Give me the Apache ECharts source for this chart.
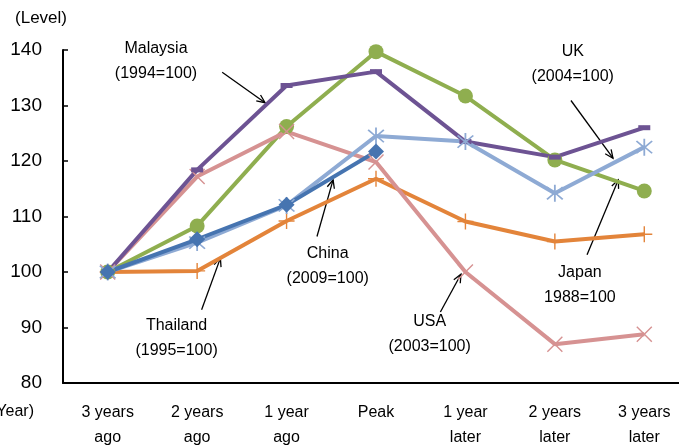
<!DOCTYPE html>
<html>
<head>
<meta charset="utf-8">
<script src="https://cdn.jsdelivr.net/npm/echarts@6/dist/echarts.min.js"></script>
<style>
  html, body { margin: 0; padding: 0; background: #fff; }
  #chart { width: 679px; height: 448px; }
</style>
</head>
<body>
<div id="chart"></div>
<script>
// Index levels around each economy's peak year (peak-year base noted in labels)
const categories = ['3 years\nago', '2 years\nago', '1 year\nago', 'Peak', '1 year\nlater', '2 years\nlater', '3 years\nlater'];
const yTicks = { min: 80, max: 140, step: 10 };

const ukValues       = [100, 108.3, 126.2, 139.7, 131.7, 120.2, 114.6];
const thailandValues = [100, 100.2, 109.2, 116.8, 109.1, 105.5, 106.8];
const usaValues      = [100, 117.2, 125.3, 119.8, 100.0, 87.0, 88.8];
const malaysiaValues = [100, 118.4, 133.6, 136.1, 123.5, 120.7, 126.0];
const japanValues    = [100, 105.3, 112.0, 124.5, 123.5, 114.2, 122.5];
const chinaValues    = [100, 105.9, 112.1, 121.7];

// Callouts: label anchor and arrow (tail -> head) in [category position, level]
const calloutTexts  = ['Malaysia\n(1994=100)', 'UK\n(2004=100)', 'Japan\n1988=100', 'USA\n(2003=100)', 'China\n(2009=100)', 'Thailand\n(1995=100)'];
const calloutAnchor = [[0.54, 138.0], [5.20, 137.5], [5.28, 97.7], [3.60, 88.8], [2.46, 101.1], [0.77, 88.1]];
const arrowTail     = [[1.28, 136.0], [5.18, 130.9], [5.36, 103.1], [3.72, 92.8], [2.34, 106.4], [1.05, 93.2]];
const arrowHead     = [[1.76, 130.5], [5.65, 120.5], [5.71, 116.6], [3.95, 99.6], [2.52, 116.6], [1.26, 102.5]];

const FONT = "'Liberation Sans', Arial, sans-serif";

// Thin-stroke marker shapes drawn as slim filled polygons
const plusMark = 'path://M-0.7,-8 L0.7,-8 L0.7,-0.7 L8,-0.7 L8,0.7 L0.7,0.7 L0.7,8 L-0.7,8 L-0.7,0.7 L-8,0.7 L-8,-0.7 L-0.7,-0.7 Z';
const crossMark = 'path://M-8,-7 L-7,-8 L0,-1 L7,-8 L8,-7 L1,0 L8,7 L7,8 L0,1 L-7,8 L-8,7 L-1,0 Z';
const starMark = 'path://M-0.7,-8 L0.7,-8 L0.7,-1.2 L5.6,-6.3 L6.6,-5.3 L1.4,0 L6.6,5.3 L5.6,6.3 L0.7,1.2 L0.7,8 L-0.7,8 L-0.7,1.2 L-5.6,6.3 L-6.6,5.3 L-1.4,0 L-6.6,-5.3 L-5.6,-6.3 L-0.7,-1.2 Z';

function lineSeries(name, data, color, symbol, size, width) {
  return {
    name, type: 'line', data,
    symbol, symbolSize: size, showSymbol: true,
    lineStyle: { color, width: width || 4 },
    itemStyle: { color, borderWidth: 0 },
    emphasis: { disabled: true },
    animation: false
  };
}

const chart = echarts.init(document.getElementById('chart'), null, { renderer: 'canvas' });

chart.setOption({
  backgroundColor: '#ffffff',
  animation: false,
  // the last category band runs past the right edge of the canvas
  grid: { left: 63, top: 50, width: 626, height: 333, containLabel: false, outerBoundsMode: 'none' },
  xAxis: {
    type: 'category',
    data: categories,
    boundaryGap: true,
    axisLine: { lineStyle: { color: '#000', width: 2 } },
    axisTick: { show: false },
    axisLabel: { color: '#000', fontSize: 16, fontFamily: FONT, lineHeight: 25, margin: 17, interval: 0 },
    splitLine: { show: false }
  },
  yAxis: {
    type: 'value',
    min: yTicks.min, max: yTicks.max, interval: yTicks.step,
    axisLine: { show: true, lineStyle: { color: '#000', width: 2 } },
    axisTick: { show: true, inside: true, length: 5, lineStyle: { color: '#000', width: 1.5 } },
    axisLabel: { color: '#000', fontSize: 19, fontFamily: FONT, margin: 21 },
    splitLine: { show: false }
  },
  series: [
    lineSeries('UK', ukValues, '#8fae4f', 'circle', 15),
    lineSeries('Thailand', thailandValues, '#e3843a', plusMark, 16),
    lineSeries('USA', usaValues, '#d69292', crossMark, 16),
    lineSeries('Malaysia', malaysiaValues, '#6d5393', 'rect', [12, 5]),
    lineSeries('Japan', japanValues, '#8eaad4', starMark, 17),
    lineSeries('China', chinaValues, '#4674b0', 'diamond', 16)
  ]
});

// Category positions between ticks are interpolated from neighbouring category centres
function toPixel(pt) {
  const i0 = Math.floor(pt[0]);
  const f = pt[0] - i0;
  const p0 = chart.convertToPixel({ gridIndex: 0 }, [i0, pt[1]]);
  const p1 = chart.convertToPixel({ gridIndex: 0 }, [i0 + 1, pt[1]]);
  return [p0[0] + (p1[0] - p0[0]) * f, p0[1]];
}

// Axis captions and callouts placed through the chart's own coordinate system
function buildGraphics() {
  const els = [];
  const top = toPixel([0, yTicks.max]);
  const bottom = toPixel([0, yTicks.min]);
  els.push({
    type: 'text', x: 41, y: top[1] - 32,
    style: { text: '(Level)', font: '17px ' + FONT, fill: '#000', align: 'center', verticalAlign: 'middle' }
  });
  els.push({
    type: 'text', x: 34, y: bottom[1] + 29,
    style: { text: '(Year)', font: '16px ' + FONT, fill: '#000', align: 'right', verticalAlign: 'middle' }
  });
  for (let i = 0; i < calloutTexts.length; i++) {
    const p = toPixel(calloutAnchor[i]);
    els.push({
      type: 'text', x: p[0], y: p[1],
      style: { text: calloutTexts[i], font: '16px ' + FONT, fill: '#000', align: 'center', verticalAlign: 'middle', lineHeight: 25 }
    });
    const a = toPixel(arrowTail[i]);
    const b = toPixel(arrowHead[i]);
    els.push({
      type: 'line', shape: { x1: a[0], y1: a[1], x2: b[0], y2: b[1] },
      style: { stroke: '#000', lineWidth: 1.3 }
    });
    const ang = Math.atan2(b[1] - a[1], b[0] - a[0]);
    const len = 9, spread = 0.42;
    const l = [b[0] - len * Math.cos(ang - spread), b[1] - len * Math.sin(ang - spread)];
    const r = [b[0] - len * Math.cos(ang + spread), b[1] - len * Math.sin(ang + spread)];
    els.push({
      type: 'polyline', shape: { points: [l, b, r] },
      style: { stroke: '#000', lineWidth: 1.3, fill: null }
    });
  }
  chart.setOption({ graphic: { elements: els } });
}
buildGraphics();
</script>
</body>
</html>
